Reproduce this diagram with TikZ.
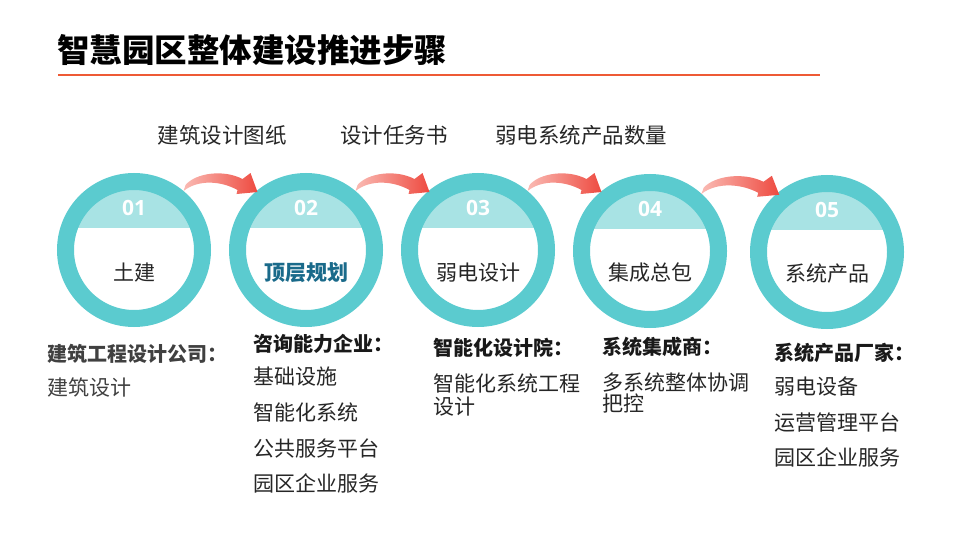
\documentclass[tikz,border=0pt]{standalone}
\usepackage{fontspec}
\setmainfont{Noto Sans CJK SC}
\newfontfamily\numfont{Open Sans}
\usetikzlibrary{calc}
\definecolor{ringc}{HTML}{5BCBCF}
\definecolor{bandc}{HTML}{A8E3E4}
\definecolor{accent}{HTML}{EE5A35}
\definecolor{darkteal}{HTML}{1A6A8A}
\definecolor{arrowL}{HTML}{FABBB4}
\definecolor{arrowR}{HTML}{EE4A40}
\definecolor{txtc}{HTML}{262626}
\definecolor{grayc}{HTML}{404040}
\tikzset{
  ringnode/.style={circle, draw=ringc, line width=17pt, minimum size=137pt, inner sep=0pt},
  numtxt/.style={font=\numfont\fontsize{21}{21}\selectfont\bfseries, text=white, inner sep=0pt},
  intxt/.style={font=\fontsize{21}{21}\selectfont, text=txtc, inner sep=0pt},
  toplabel/.style={font=\fontsize{21.5}{21.5}\selectfont, text=txtc, inner sep=0pt},
  headtxt/.style={anchor=west, font=\fontsize{20}{20}\selectfont\bfseries, text=black!90, inner sep=0pt},
  itemtxt/.style={anchor=west, font=\fontsize{21}{21}\selectfont, text=txtc, inner sep=0pt},
  arrowshade/.style={left color=arrowL, right color=arrowR},
}
\newcommand\stepcircle[4]{%
  \begin{scope}
    \clip (#2,#3) circle (61pt);
    \fill[bandc] ($(#2,#3)+(-80,-80)$) rectangle ($(#2,#3)+(80,-22)$);
  \end{scope}
  \node[ringnode] (c#1) at (#2,#3) {};
  \node[numtxt] (n#1) at ($(#2,#3)+(0,-42)$) {0#1};
}
\newcommand\bentarrow[3]{%
  \begin{scope}[shift={(#1)}, xscale=#3]
    \shade[arrowshade] (0,0) -- (2,-6) .. controls (12,-18) and (40,-22) .. (59,-12)
      -- (67,-18) -- (74,1) -- (53,3) -- (54,-1)
      .. controls (38,-10) and (15,-12) .. (0,0) -- cycle;
  \end{scope}
  \coordinate (#2) at (#1);
}
\begin{document}
\begin{tikzpicture}[x=1pt,y=-1pt]
\useasboundingbox (0,0) rectangle (960,540);
% title
\node[anchor=west, inner sep=0pt, font=\fontsize{32.5}{32.5}\selectfont\bfseries, text=black] (title) at (57,50) {智慧园区整体建设推进步骤};
\coordinate (ulA) at (58,75);
\coordinate (ulB) at (820,75);
\draw[accent, line width=2.5pt] (ulA) -- (ulB);
% top labels
\node[toplabel] (lab1) at (222,135) {建筑设计图纸};
\node[toplabel] (lab2) at (394,135) {设计任务书};
\node[toplabel] (lab3) at (581,135) {弱电系统产品数量};
% circles
\stepcircle{1}{134}{250}{}
\stepcircle{2}{306}{250}{}
\stepcircle{3}{478}{250}{}
\stepcircle{4}{650}{251}{}
\stepcircle{5}{827}{252}{}
\node[intxt] (t1) at (134,273) {土建};
\node[intxt, font=\fontsize{21}{21}\selectfont\bfseries, text=darkteal] (t2) at (306,273) {顶层规划};
\node[intxt] (t3) at (478,273) {弱电设计};
\node[intxt] (t4) at (650,273) {集成总包};
\node[intxt] (t5) at (827,274) {系统产品};
% arrows
\bentarrow{c1.50}{a1}{1}
\bentarrow{c2.50}{a2}{1}
\bentarrow{c3.50}{a3}{1}
\bentarrow{c4.48}{a4}{1.05}
% column 1
\node[headtxt, text=grayc] (h1) at (47,354) {建筑工程设计公司：};
\node[itemtxt, text=grayc] (i11) at (47,387) {建筑设计};
% column 2
\node[headtxt] (h2) at (253,344) {咨询能力企业：};
\node[itemtxt] (i21) at (253,377) {基础设施};
\node[itemtxt] (i22) at (253,412) {智能化系统};
\node[itemtxt] (i23) at (253,448) {公共服务平台};
\node[itemtxt] (i24) at (253,483) {园区企业服务};
% column 3
\node[headtxt] (h3) at (433,348) {智能化设计院：};
\node[itemtxt] (i31) at (433,383) {智能化系统工程};
\node[itemtxt] (i32) at (433,407) {设计};
% column 4
\node[headtxt] (h4) at (602,347) {系统集成商：};
\node[itemtxt] (i41) at (602,382) {多系统整体协调};
\node[itemtxt] (i42) at (602,404) {把控};
% column 5
\node[headtxt] (h5) at (774,353) {系统产品厂家：};
\node[itemtxt] (i51) at (774,387) {弱电设备};
\node[itemtxt] (i52) at (774,423) {运营管理平台};
\node[itemtxt] (i53) at (774,457) {园区企业服务};
\end{tikzpicture}
\end{document}
